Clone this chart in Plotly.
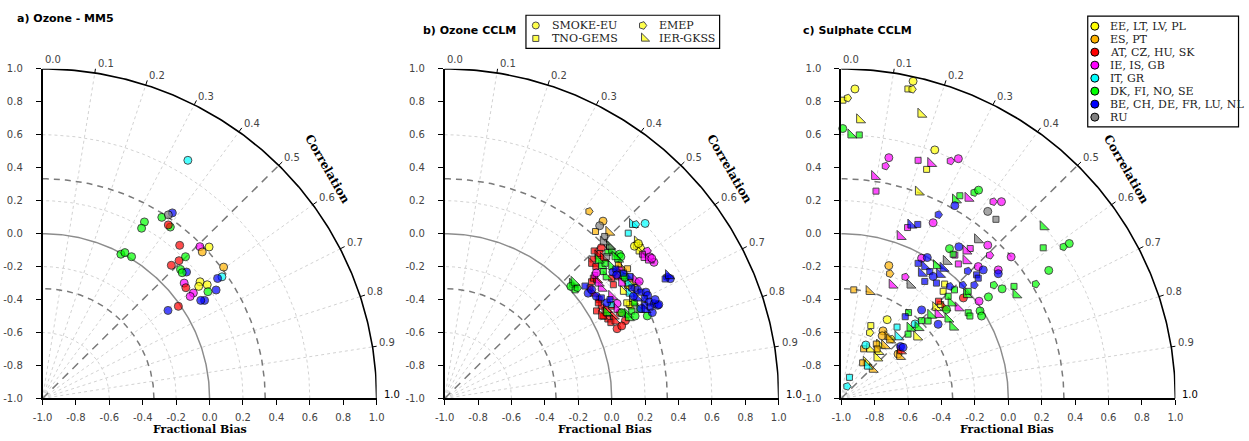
import numpy as np
import plotly.graph_objects as go

W, H = 1249, 441

# ---------------------------------------------------------------- categories
REGION_NAMES = ["EE, LT, LV, PL", "ES, PT", "AT, CZ, HU, SK", "IE, IS, GB",
                "IT, GR", "DK, FI, NO, SE", "BE, CH, DE, FR, LU, NL", "RU"]
REGION_COLORS = ["#ffff00", "#ffb300", "#ff0000", "#ff00ff",
                 "#00ffff", "#00ff00", "#0000ff", "#808080"]
MODEL_NAMES = ["SMOKE-EU", "TNO-GEMS", "EMEP", "IER-GKSS"]
MODEL_SYMBOLS = ["circle", "square", "pentagon", "triangle-sw"]
MODEL_ANGLES = [0, 0, 90, 0]
MODEL_SIZES = [8, 6, 8, 10]

AXIS_TICKS = [-1.0, -0.8, -0.6, -0.4, -0.2, 0.0, 0.2, 0.4, 0.6, 0.8, 1.0]
AXIS_TICK_TEXT = ["-1.0", "-0.8", "-0.6", "-0.4", "-0.2", "0.0",
                  "0.2", "0.4", "0.6", "0.8", "1.0"]
CORR_TICKS = [0.0, 0.1, 0.2, 0.3, 0.4, 0.5, 0.6, 0.7, 0.8, 0.9, 1.0]
CORR_TICK_TEXT = ["0.0", "0.1", "0.2", "0.3", "0.4", "0.5",
                  "0.6", "0.7", "0.8", "0.9", "1.0"]
DOTTED_RADII = [0.4, 0.8, 1.2, 1.6]
DASHED_RADII = [0.667, 1.333]
UNIT_RADIUS = 1.0
OUTER_RADIUS = 2.0

PANEL_TITLES = ["a) Ozone - MM5", "b) Ozone CCLM", "c) Sulphate CCLM"]

# ---------------------------------------------------------------- a) Ozone - MM5
A_X = [-0.130, -0.223, -0.286, -0.235, -0.247, -0.247, -0.390, -0.407,
       -0.531, -0.507, -0.467, -0.179, -0.058, -0.003, -0.044, -0.183,
       -0.144, -0.229, 0.084, -0.174, -0.138, -0.164, 0.074, 0.048,
       -0.152, -0.057, -0.142, -0.014, -0.065, -0.010, 0.039, -0.097,
       -0.116, -0.030, -0.053, -0.187, -0.249]
A_Y = [0.445, 0.126, 0.099, 0.040, 0.114, 0.053, 0.071, 0.033,
       -0.125, -0.115, -0.140, -0.071, -0.079, -0.081, -0.111, -0.164,
       -0.140, -0.192, -0.203, -0.217, -0.233, -0.237, -0.262, -0.272,
       -0.300, -0.292, -0.328, -0.310, -0.320, -0.352, -0.342, -0.360,
       -0.381, -0.405, -0.405, -0.441, -0.466]
A_REGION = [4, 6, 5, 5, 7, 2, 5, 5,
            5, 5, 5, 2, 3, 0, 1, 2,
            5, 2, 1, 5, 6, 5, 4, 6,
            3, 0, 2, 0, 0, 5, 6, 3,
            3, 6, 6, 2, 6]

# ---------------------------------------------------------------- b) Ozone CCLM
B_X = [
    # EE, LT, LV, PL
    0.154, 0.148, 0.174, 0.164, 0.136, 0.160, 0.096, 0.099, 0.115, 0.125, 0.120, 0.105,
    0.070, 0.090, 0.140,
    # ES, PT
    -0.135, -0.052, -0.097, -0.017, 0.056, 0.095, 0.040,
    # AT, CZ, HU, SK
    -0.062, -0.105, -0.082, -0.111, -0.070, -0.050, 0.036, 0.000, 0.010, -0.121,
    -0.110, -0.111, -0.090, -0.062, -0.091, -0.040, -0.023, 0.010, 0.082, 0.032,
    -0.005, -0.050, 0.020, -0.075, 0.050, -0.120, -0.095, -0.130, -0.080, -0.030,
    0.000, 0.060, -0.060,
    # IE, IS, GB
    0.213, 0.184, 0.194, 0.229, 0.253, 0.220, 0.240, -0.101, -0.092, 0.144,
    0.165, -0.062, 0.032, 0.032, 0.060, -0.080, 0.000, 0.090, 0.050,
    # IT, GR
    0.125, 0.144, 0.200, 0.099, 0.105, -0.003, 0.100,
    # DK, FI, NO, SE
    -0.235, -0.245, -0.219, -0.205, -0.225, -0.013, -0.023, 0.000, 0.046, 0.055,
    0.036, -0.062, -0.033, 0.066, 0.080, -0.040, 0.164, 0.135, 0.095, 0.060,
    0.213, 0.120, -0.080, 0.000, 0.020, -0.050, 0.100, 0.140, -0.030,
    # BE, CH, DE, FR, LU, NL
    0.007, 0.025, -0.160, -0.141, -0.092, -0.062, -0.030, 0.331, 0.351, 0.320,
    0.340, 0.154, 0.175, 0.205, 0.215, 0.195, 0.225, 0.255, 0.275, 0.195,
    0.175, 0.243, 0.150, 0.120, 0.282, 0.200, 0.070, 0.030, 0.110, 0.130,
    0.230, 0.260, -0.010, -0.120,
    # RU
    -0.072, -0.042, -0.013, -0.030, -0.050,
]
B_Y = [
    -0.050, -0.070, -0.086, -0.105, -0.076, -0.060, -0.312, -0.318, -0.440, -0.410, -0.290, -0.430,
    -0.350, -0.420, -0.330,
    0.135, 0.076, 0.013, 0.009, -0.203, -0.213, -0.190,
    -0.085, -0.105, -0.135, -0.154, -0.120, -0.150, -0.262, -0.270, -0.310, -0.292,
    -0.270, -0.361, -0.280, -0.440, -0.469, -0.480, -0.518, -0.500, -0.528, -0.577,
    -0.540, -0.500, -0.530, -0.400, -0.480, -0.180, -0.200, -0.330, -0.420, -0.460,
    -0.440, -0.560, -0.500,
    -0.105, -0.125, -0.145, -0.141, -0.174, -0.160, -0.150, -0.253, -0.238, -0.282,
    -0.290, -0.331, -0.424, -0.459, -0.300, -0.300, -0.380, -0.270, -0.220,
    0.056, 0.056, 0.062, 0.003, -0.361, -0.430, -0.300,
    -0.306, -0.320, -0.341, -0.330, -0.295, -0.076, -0.115, -0.100, -0.125, -0.140,
    -0.154, -0.194, -0.262, -0.253, -0.265, -0.180, -0.459, -0.420, -0.489, -0.480,
    -0.499, -0.470, -0.160, -0.200, -0.140, -0.230, -0.510, -0.500, -0.480,
    -0.233, -0.215, -0.318, -0.361, -0.380, -0.390, -0.420, -0.263, -0.273, -0.275,
    -0.255, -0.340, -0.355, -0.355, -0.375, -0.395, -0.415, -0.425, -0.435, -0.435,
    -0.455, -0.479, -0.390, -0.330, -0.430, -0.460, -0.240, -0.250, -0.260, -0.380,
    -0.445, -0.400, -0.400, -0.340,
    0.048, -0.017, -0.076, -0.140, -0.050,
]
B_REGION = [
    0, 0, 0, 0, 0, 0, 0, 0, 0, 0, 0, 0,
    0, 0, 0,
    1, 1, 1, 1, 1, 1, 1,
    2, 2, 2, 2, 2, 2, 2, 2, 2, 2,
    2, 2, 2, 2, 2, 2, 2, 2, 2, 2,
    2, 2, 2, 2, 2, 2, 2, 2, 2, 2,
    2, 2, 2,
    3, 3, 3, 3, 3, 3, 3, 3, 3, 3,
    3, 3, 3, 3, 3, 3, 3, 3, 3,
    4, 4, 4, 4, 4, 4, 4,
    5, 5, 5, 5, 5, 5, 5, 5, 5, 5,
    5, 5, 5, 5, 5, 5, 5, 5, 5, 5,
    5, 5, 5, 5, 5, 5, 5, 5, 5,
    6, 6, 6, 6, 6, 6, 6, 6, 6, 6,
    6, 6, 6, 6, 6, 6, 6, 6, 6, 6,
    6, 6, 6, 6, 6, 6, 6, 6, 6, 6,
    6, 6, 6, 6,
    7, 7, 7, 7, 7,
]
B_MODEL = [
    3, 1, 2, 3, 0, 0, 3, 2, 1, 3, 3, 1,
    3, 1, 2,
    2, 0, 1, 3, 3, 1, 1,
    0, 1, 3, 1, 1, 3, 3, 1, 1, 1,
    1, 3, 3, 3, 1, 3, 1, 3, 0, 0,
    1, 1, 3, 1, 0, 3, 1, 1, 1, 3,
    1, 0, 3,
    2, 1, 3, 0, 0, 3, 0, 1, 0, 3,
    0, 3, 0, 3, 3, 3, 3, 3, 1,
    3, 2, 0, 1, 3, 1, 3,
    3, 0, 1, 2, 3, 3, 1, 3, 0, 0,
    3, 3, 3, 3, 0, 1, 3, 1, 3, 0,
    0, 1, 3, 3, 3, 1, 3, 0, 3,
    0, 1, 1, 0, 0, 1, 0, 2, 0, 1,
    3, 0, 1, 0, 0, 1, 0, 0, 0, 1,
    0, 0, 3, 1, 0, 3, 1, 0, 1, 0,
    1, 0, 1, 0,
    0, 1, 3, 1, 3,
]

# ---------------------------------------------------------------- c) Sulphate CCLM
C_X = [
    # EE, LT, LV, PL
    -0.990, -0.962, -0.918, -0.570, -0.601, -0.575, -0.890, -0.523, -0.440, -0.489,
    -0.538, -0.381, -0.390, -0.434, -0.725, -0.823, -0.829, -0.548, -0.770, -0.780,
    -0.830, -0.786, -0.850, -0.700, -0.405,
    # ES, PT
    -0.715, -0.709, -0.925, -0.833, -0.750, -0.755, -0.720, -0.710, -0.660, -0.650,
    -0.790, -0.785, -0.866, -0.872, -0.814, -0.740,
    # AT, CZ, HU, SK
    -0.269, -0.418, -0.379, -0.645,
    # IE, IS, GB
    -0.715, -0.735, -0.540, -0.464, -0.346, -0.299, -0.800, -0.792, -0.241, -0.090,
    -0.041, -0.450, -0.603, -0.647, -0.228, -0.123, -0.111, 0.017, -0.253, -0.253,
    -0.519, -0.299, -0.180, -0.060, -0.617, -0.695, -0.175, -0.300, -0.420, -0.320,
    # IT, GR
    -0.666, -0.558, -0.660, -0.853, -0.843, -0.951, -0.965,
    # DK, FI, NO, SE
    -0.991, -0.942, -0.892, -0.316, -0.290, -0.204, -0.178, 0.209, 0.209, 0.365,
    0.330, -0.352, -0.330, 0.242, 0.164, -0.037, 0.034, 0.046, -0.087, -0.430,
    -0.322, -0.119, -0.250, -0.240, -0.169, -0.160, -0.240, -0.230, -0.342, -0.360,
    -0.370, -0.597, -0.464, -0.361, -0.332, -0.519, -0.480, -0.588, -0.540, -0.600,
    # BE, CH, DE, FR, LU, NL
    -0.320, -0.418, -0.583, -0.542, -0.296, -0.485, -0.540, -0.500, -0.470, -0.520,
    -0.411, -0.390, -0.450, -0.500, -0.243, -0.190, -0.180, -0.150, -0.060, -0.273,
    -0.204, -0.350, -0.430, -0.519, -0.617, -0.420, -0.645, -0.630,
    # RU
    -0.123, -0.074, -0.184, -0.371, -0.588,
]
C_Y = [
    0.810, 0.823, 0.878, 0.925, 0.878, 0.876, 0.691, 0.725, 0.508, 0.390,
    0.253, -0.306, -0.350, -0.449, -0.522, -0.558, -0.601, -0.627, -0.676, -0.715,
    -0.700, -0.754, -0.780, -0.640, -0.430,
    -0.194, -0.243, -0.341, -0.351, -0.590, -0.620, -0.625, -0.645, -0.730, -0.745,
    -0.670, -0.700, -0.699, -0.784, -0.823, -0.680,
    -0.390, -0.410, -0.450, -0.711,
    0.461, 0.410, 0.445, 0.426, 0.441, 0.455, 0.347, 0.258, 0.215, 0.194,
    0.194, 0.066, 0.037, -0.017, -0.090, -0.070, -0.131, -0.141, -0.105, -0.164,
    -0.149, -0.184, -0.200, -0.220, -0.263, -0.312, -0.410, -0.450, -0.490, -0.130,
    -0.567, -0.548, -0.626, -0.676, -0.804, -0.872, -0.927,
    0.638, 0.599, 0.599, 0.205, 0.230, 0.249, 0.264, 0.042, -0.086, -0.060,
    -0.080, -0.091, -0.125, -0.223, -0.306, -0.335, -0.320, -0.371, -0.312, -0.194,
    -0.341, -0.384, -0.370, -0.350, -0.469, -0.500, -0.480, -0.500, -0.420, -0.380,
    -0.460, -0.479, -0.495, -0.518, -0.567, -0.528, -0.530, -0.573, -0.570, -0.610,
    0.170, 0.115, 0.052, 0.056, -0.080, -0.145, -0.180, -0.200, -0.230, -0.240,
    -0.247, -0.210, -0.260, -0.290, -0.227, -0.250, -0.270, -0.220, -0.243, -0.312,
    -0.312, -0.320, -0.300, -0.463, -0.504, -0.550, -0.685, -0.690,
    0.135, 0.087, -0.037, -0.168, -0.312,
]
C_REGION = [
    0, 0, 0, 0, 0, 0, 0, 0, 0, 0,
    0, 0, 0, 0, 0, 0, 0, 0, 0, 0,
    0, 0, 0, 0, 0,
    1, 1, 1, 1, 1, 1, 1, 1, 1, 1,
    1, 1, 1, 1, 1, 1,
    2, 2, 2, 2,
    3, 3, 3, 3, 3, 3, 3, 3, 3, 3,
    3, 3, 3, 3, 3, 3, 3, 3, 3, 3,
    3, 3, 3, 3, 3, 3, 3, 3, 3, 3,
    4, 4, 4, 4, 4, 4, 4,
    5, 5, 5, 5, 5, 5, 5, 5, 5, 5,
    5, 5, 5, 5, 5, 5, 5, 5, 5, 5,
    5, 5, 5, 5, 5, 5, 5, 5, 5, 5,
    5, 5, 5, 5, 5, 5, 5, 5, 5, 5,
    6, 6, 6, 6, 6, 6, 6, 6, 6, 6,
    6, 6, 6, 6, 6, 6, 6, 6, 6, 6,
    6, 6, 6, 6, 6, 6, 6, 6,
    7, 7, 7, 7, 7,
]
C_MODEL = [
    1, 2, 0, 0, 1, 2, 3, 3, 0, 1,
    3, 1, 1, 3, 0, 1, 2, 3, 3, 3,
    3, 3, 3, 2, 1,
    0, 2, 1, 3, 0, 0, 3, 3, 0, 3,
    1, 1, 1, 1, 3, 3,
    0, 1, 3, 3,
    0, 2, 1, 3, 2, 0, 3, 1, 3, 2,
    0, 0, 1, 3, 1, 0, 2, 0, 3, 3,
    0, 1, 0, 0, 2, 3, 0, 3, 3, 1,
    1, 0, 3, 0, 3, 1, 2,
    0, 3, 1, 3, 1, 2, 0, 3, 1, 0,
    2, 0, 1, 0, 2, 0, 1, 3, 2, 3,
    1, 0, 3, 1, 0, 0, 1, 1, 3, 1,
    0, 1, 3, 3, 3, 1, 1, 3, 3, 1,
    0, 2, 3, 1, 0, 0, 1, 3, 1, 3,
    3, 3, 0, 1, 2, 1, 1, 0, 0, 2,
    2, 2, 1, 0, 1, 0, 0, 0,
    0, 1, 3, 3, 3,
]

# ---------------------------------------------------------------- page geometry (px)
PANEL_LEFT = [33.0, 441.0, 843.4]
PANEL_SIZE = 339.0
PANEL_TOP, PANEL_BOTTOM = 65.5, 403.5
TITLE_POS = [(5, 14), (417, 26), (803, 26)]
XTITLE_CENTER = [193, 604, 1012]
XTITLE_Y = 435
PX_PER_UNIT = PANEL_SIZE / 2.0
TICK_LEN = 5.0 / PX_PER_UNIT

TICK_FONT = dict(family="DejaVu Sans", size=10, color="#444444")
LEGEND_FONT = dict(family="DejaVu Serif", size=11, color="#222222")
GRID_COLOR = "#d2d2d2"


def arc_xy(r):
    t = np.linspace(0.0, np.pi / 2.0, 181)
    return -1.0 + r * np.cos(t), -1.0 + r * np.sin(t)


def corr_theta(c):
    return np.pi / 2.0 * (1.0 - c)


def ray_xy(c, r0, r1):
    t = corr_theta(c)
    return ([-1.0 + r0 * np.cos(t), -1.0 + r1 * np.cos(t)],
            [-1.0 + r0 * np.sin(t), -1.0 + r1 * np.sin(t)])


def joined(segments):
    xs, ys = [], []
    for sx, sy in segments:
        xs += list(sx) + [None]
        ys += list(sy) + [None]
    return xs, ys


def paper(px, py):
    return px / W, 1.0 - py / H


def data_to_paper(k, x, y):
    px = PANEL_LEFT[k] + (x + 1.0) * PX_PER_UNIT
    py = PANEL_BOTTOM - (y + 1.0) * PX_PER_UNIT
    return paper(px, py)


fig = go.Figure()
axis_ids = [("x", "y"), ("x2", "y2"), ("x3", "y3")]
panels = [
    (A_X, A_Y, A_REGION, [0] * len(A_X)),
    (B_X, B_Y, B_REGION, B_MODEL),
    (C_X, C_Y, C_REGION, C_MODEL),
]

annotations = []
layout_axes = {}

for k, (xa, ya) in enumerate(axis_ids):
    def add_lines(segs, color, width, dash):
        xs, ys = joined(segs)
        fig.add_trace(go.Scatter(x=xs, y=ys, mode="lines",
                                 line=dict(color=color, width=width, dash=dash),
                                 xaxis=xa, yaxis=ya, hoverinfo="skip",
                                 showlegend=False))

    # polar grid of the diagram
    add_lines([arc_xy(r) for r in DOTTED_RADII], GRID_COLOR, 1, "3px,3px")
    add_lines([ray_xy(c, 0.0, OUTER_RADIUS) for c in CORR_TICKS[1:-1] if c != 0.5],
              GRID_COLOR, 1, "3px,3px")
    add_lines([arc_xy(r) for r in DASHED_RADII], "#7a7a7a", 1.5, "6px,5px")
    add_lines([arc_xy(UNIT_RADIUS)], "#8c8c8c", 1.5, "solid")
    add_lines([ray_xy(0.5, 0.0, OUTER_RADIUS)], "#7a7a7a", 1.5, "8px,6px")
    add_lines([arc_xy(OUTER_RADIUS)], "black", 1.6, "solid")
    add_lines([ray_xy(c, OUTER_RADIUS, OUTER_RADIUS + TICK_LEN) for c in CORR_TICKS],
              "black", 1, "solid")

    # data points
    px, py, reg, mod = panels[k]
    fig.add_trace(go.Scatter(
        x=px, y=py, mode="markers", xaxis=xa, yaxis=ya, showlegend=False,
        cliponaxis=False, hoverinfo="skip",
        marker=dict(color=[REGION_COLORS[r] for r in reg],
                    symbol=[MODEL_SYMBOLS[m] for m in mod],
                    size=[MODEL_SIZES[m] for m in mod],
                    angle=[MODEL_ANGLES[m] for m in mod],
                    line=dict(color="black", width=1))))

    # correlation labels along the outer arc
    for c, txt in zip(CORR_TICKS, CORR_TICK_TEXT):
        t = corr_theta(c)
        r = OUTER_RADIUS + TICK_LEN
        ax_, ay_ = data_to_paper(k, -1.0 + r * np.cos(t), -1.0 + r * np.sin(t))
        annotations.append(dict(
            x=ax_, y=ay_, xref="paper", yref="paper",
            text=txt, showarrow=False, xanchor="left", yanchor="bottom",
            yshift=-4, font=dict(family="DejaVu Sans", size=10,
                                 color="black" if c == 1.0 else "#444444")))
    tc = corr_theta(0.565)
    ax_, ay_ = data_to_paper(k, -1.0 + 2.2 * np.cos(tc), -1.0 + 2.2 * np.sin(tc))
    annotations.append(dict(
        x=ax_, y=ay_, xref="paper", yref="paper", xanchor="center", yanchor="middle",
        text="<b>Correlation</b>", showarrow=False, textangle=60,
        font=dict(family="DejaVu Serif", size=12, color="black")))

    # panel title and x-axis title
    tx, ty = paper(*TITLE_POS[k])
    annotations.append(dict(x=tx, y=ty, xref="paper", yref="paper",
                            text="<b>%s</b>" % PANEL_TITLES[k], showarrow=False,
                            xanchor="left", yanchor="middle",
                            font=dict(family="DejaVu Sans", size=11, color="black")))
    bx, by = paper(XTITLE_CENTER[k], XTITLE_Y)
    annotations.append(dict(x=bx, y=by, xref="paper", yref="paper",
                            text="<b>Fractional Bias</b>", showarrow=False,
                            xanchor="center", yanchor="middle",
                            font=dict(family="DejaVu Serif", size=11, color="black")))

    left = PANEL_LEFT[k]
    xdom = [left / W, (left + PANEL_SIZE) / W]
    ydom = [1.0 - PANEL_BOTTOM / H, 1.0 - PANEL_TOP / H]
    common = dict(range=[-1, 1], showgrid=False, zeroline=False, showline=True,
                  linecolor="black", linewidth=1.5, ticks="outside", ticklen=5,
                  tickwidth=1, tickcolor="black", tickmode="array",
                  tickvals=AXIS_TICKS, ticktext=AXIS_TICK_TEXT, tickfont=TICK_FONT,
                  fixedrange=True)
    suffix = "" if k == 0 else str(k + 1)
    layout_axes["xaxis" + suffix] = dict(domain=xdom, anchor=ya,
                                         ticklabelstandoff=4, **common)
    layout_axes["yaxis" + suffix] = dict(domain=ydom, anchor=xa,
                                         ticklabelstandoff=11, **common)

# ---------------------------------------------------------------- legends (pixel overlay)
layout_axes["xaxis4"] = dict(domain=[0, 1], range=[0, W], visible=False,
                             anchor="y4", fixedrange=True)
layout_axes["yaxis4"] = dict(domain=[0, 1], range=[H, 0], visible=False,
                             anchor="x4", fixedrange=True)

LEG_B_POS = [(533.5, 21.0), (533.5, 34.3), (642.0, 21.0), (643.5, 34.3)]
LEG_B_TEXT_X = [548, 548, 656, 656]
fig.add_trace(go.Scatter(
    x=[p[0] for p in LEG_B_POS], y=[p[1] for p in LEG_B_POS], mode="markers",
    xaxis="x4", yaxis="y4", showlegend=False, hoverinfo="skip", cliponaxis=False,
    marker=dict(color=REGION_COLORS[0], symbol=MODEL_SYMBOLS,
                size=[7, 6, 8, 9], angle=MODEL_ANGLES,
                line=dict(color="black", width=1))))
for (mx, my), tx, name in zip(LEG_B_POS, LEG_B_TEXT_X, MODEL_NAMES):
    ax_, ay_ = paper(tx, my)
    annotations.append(dict(x=ax_, y=ay_, xref="paper", yref="paper", text=name,
                            showarrow=False, xanchor="left", yanchor="middle",
                            font=LEGEND_FONT))

LEG_C_X, LEG_C_Y0, LEG_C_DY = 1100.7, 21.7, 13.33
leg_c_y = [LEG_C_Y0 + i * LEG_C_DY for i in range(len(REGION_NAMES))]
fig.add_trace(go.Scatter(
    x=[LEG_C_X] * len(REGION_NAMES), y=leg_c_y, mode="markers",
    xaxis="x4", yaxis="y4", showlegend=False, hoverinfo="skip", cliponaxis=False,
    marker=dict(color=REGION_COLORS, symbol="circle", size=8,
                line=dict(color="black", width=1))))
for yy, name in zip(leg_c_y, REGION_NAMES):
    ax_, ay_ = paper(1114, yy)
    annotations.append(dict(x=ax_, y=ay_, xref="paper", yref="paper", text=name,
                            showarrow=False, xanchor="left", yanchor="middle",
                            font=LEGEND_FONT))

shapes = []
for (x0, y0, x1, y1) in [(523.5, 10.5, 720.0, 44.5), (1093.5, 11.5, 1246.5, 125.0)]:
    a0 = paper(x0, y1)
    a1 = paper(x1, y0)
    shapes.append(dict(type="rect", xref="paper", yref="paper",
                       x0=a0[0], y0=a0[1], x1=a1[0], y1=a1[1],
                       line=dict(color="black", width=1.2), layer="above"))

fig.update_layout(
    width=W, height=H, margin=dict(l=0, r=0, t=0, b=0),
    paper_bgcolor="white", plot_bgcolor="rgba(0,0,0,0)",
    showlegend=False, annotations=annotations, shapes=shapes,
    **layout_axes)

fig.write_html("out.html")
